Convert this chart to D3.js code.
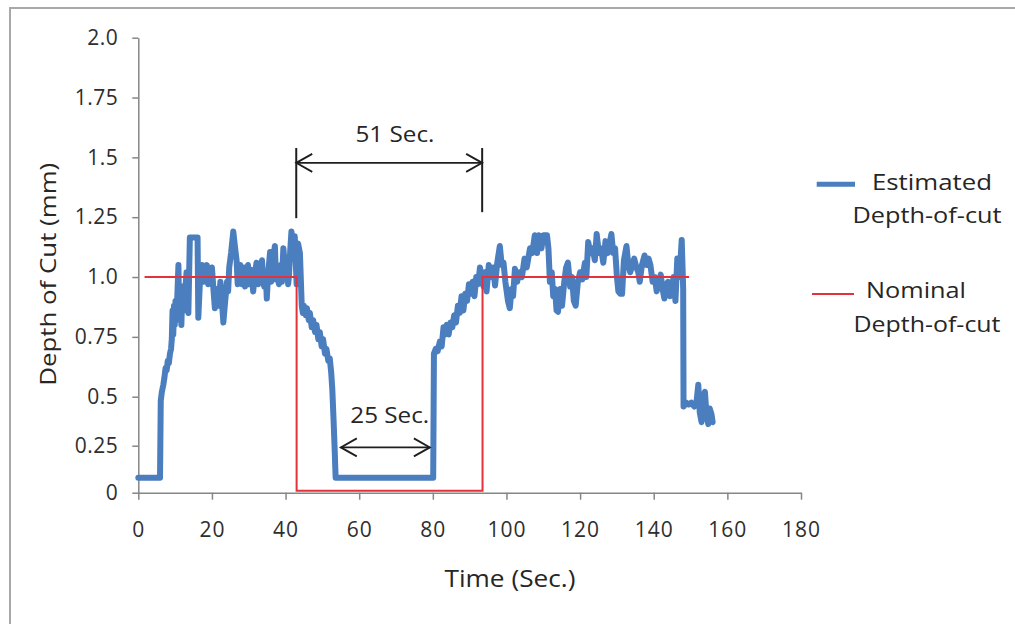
<!DOCTYPE html>
<html>
<head>
<meta charset="utf-8">
<script src="https://cdn.jsdelivr.net/npm/d3@7"></script>
<style>
  html, body { margin: 0; padding: 0; background: #fff; }
  svg { display: block; font-family: "Open Sans", "Noto Sans", sans-serif; }
</style>
</head>
<body>
<svg id="chart" width="1015" height="624"></svg>
<script>
// ---- data -------------------------------------------------------------
const xTicks = [0, 20, 40, 60, 80, 100, 120, 140, 160, 180];
const yTicks = [0, 0.25, 0.5, 0.75, 1.0, 1.25, 1.5, 1.75, 2.0];
const yTickLabels = ["0", "0.25", "0.5", "0.75", "1.0", "1.25", "1.5", "1.75", "2.0"];

// estimated depth of cut [time s, depth mm]
const estimated = [
  [0, 0.08], [5.9, 0.08], [6.1, 0.48], [6.4, 0.52], [6.8, 0.55], [7.1, 0.58], [7.4, 0.62],
  [7.7, 0.61], [8.0, 0.65], [8.3, 0.64], [8.6, 0.68], [8.9, 0.70], [9.1, 0.74], [9.3, 0.86],
  [9.5, 0.76], [9.7, 0.88], [9.9, 0.80], [10.1, 0.90], [10.3, 0.82], [10.6, 0.92],
  [10.9, 1.05], [11.1, 0.84], [11.4, 0.95], [11.7, 0.80], [12.0, 0.96], [12.3, 0.86],
  [12.7, 0.93], [13.1, 1.02], [13.4, 0.88], [13.6, 0.85], [14.0, 1.165], [15.0, 1.165],
  [16.1, 1.165], [16.3, 0.83], [16.8, 1.0], [17.3, 1.05], [17.7, 0.98], [18.0, 1.02],
  [18.6, 1.05], [19.0, 0.97], [19.3, 1.0], [20.0, 1.04], [20.4, 0.95], [20.8, 0.87],
  [21.3, 0.95], [21.8, 0.88], [22.3, 0.98], [22.7, 0.90], [23.1, 0.81], [23.6, 0.90],
  [24.1, 0.98], [24.4, 0.94], [24.7, 1.04], [25.2, 1.10], [25.8, 1.19], [26.3, 1.12],
  [26.7, 1.07], [27.0, 0.97], [27.2, 1.0], [27.7, 1.05], [28.2, 0.97], [28.7, 1.04],
  [29.0, 0.96], [29.3, 0.99], [29.8, 1.05], [30.1, 0.97], [30.4, 0.98], [30.8, 1.03],
  [31.2, 0.94], [31.6, 1.0], [32.1, 1.06], [32.6, 0.97], [33.1, 1.01], [33.6, 1.07],
  [33.9, 0.99], [34.2, 0.96], [34.6, 1.02], [34.9, 0.91], [35.3, 1.02], [35.8, 1.105],
  [36.1, 0.98], [36.3, 1.0], [36.7, 1.08], [37.1, 1.13], [37.4, 0.99], [37.6, 1.02],
  [38.2, 0.97], [38.7, 1.05], [39.0, 0.98], [39.4, 1.12], [39.9, 1.03], [40.4, 1.06],
  [40.7, 0.97], [40.9, 1.0], [41.3, 1.12], [41.6, 1.19], [42.1, 1.10], [42.5, 1.17],
  [43.0, 0.97], [43.4, 1.14], [43.9, 1.10], [44.4, 0.88], [44.7, 0.85], [45.0, 0.88],
  [45.5, 0.84], [45.8, 0.87], [46.3, 0.82], [46.6, 0.85], [47.1, 0.79], [47.5, 0.82],
  [48.0, 0.77], [48.4, 0.80], [48.9, 0.74], [49.3, 0.77], [49.8, 0.71], [50.2, 0.74],
  [50.7, 0.68], [51.1, 0.70], [51.6, 0.65], [52.0, 0.66], [52.4, 0.60], [52.7, 0.53],
  [53.0, 0.40], [53.3, 0.25], [53.6, 0.08], [80.1, 0.08], [80.3, 0.68], [80.8, 0.70],
  [81.3, 0.69], [81.9, 0.73], [82.4, 0.71], [82.9, 0.79], [83.3, 0.76], [83.8, 0.80],
  [84.3, 0.76], [84.8, 0.81], [85.3, 0.79], [85.8, 0.84], [86.3, 0.81], [86.8, 0.88],
  [87.3, 0.85], [87.8, 0.92], [88.3, 0.86], [88.8, 0.93], [89.3, 0.90], [89.8, 0.97],
  [90.3, 0.93], [90.8, 0.98], [91.3, 0.92], [91.8, 1.0], [92.3, 0.97], [92.8, 1.04],
  [93.2, 1.0], [93.8, 0.96], [94.2, 1.02], [94.6, 0.94], [95.2, 1.05], [95.8, 1.0],
  [96.4, 1.04], [96.9, 0.965], [97.5, 1.06], [98.2, 1.13], [98.7, 1.05], [99.2, 1.06],
  [99.7, 0.98], [100.4, 0.90], [100.9, 0.87], [101.4, 0.95], [101.8, 0.92], [102.3, 1.035],
  [102.9, 0.98], [103.5, 1.02], [104.2, 1.0], [104.9, 1.077], [105.5, 1.04], [106.4, 1.12],
  [107.0, 1.10], [107.7, 1.175], [108.3, 1.10], [108.8, 1.175], [109.5, 1.12], [110.0, 1.175],
  [111.0, 1.175], [111.4, 1.12], [111.8, 0.98], [112.3, 1.02], [112.7, 0.92], [113.2, 0.95],
  [113.6, 0.86], [114.0, 0.855], [114.6, 0.95], [115.1, 0.88], [115.7, 0.98], [116.2, 1.04],
  [116.7, 1.06], [117.3, 0.96], [117.8, 1.0], [118.3, 0.90], [118.8, 0.88], [119.4, 0.98],
  [120.0, 1.02], [120.6, 0.99], [121.3, 1.06], [121.7, 1.0], [122.2, 1.146], [122.8, 1.10],
  [123.4, 1.12], [124.0, 1.07], [124.5, 1.18], [125.1, 1.10], [125.7, 1.12], [126.3, 1.06],
  [126.9, 1.15], [127.5, 1.10], [128.0, 1.14], [128.5, 1.18], [129.0, 1.10], [129.5, 1.12],
  [130.0, 1.0], [130.4, 0.94], [130.9, 0.93], [131.4, 0.93], [131.9, 1.07], [132.6, 1.13],
  [133.1, 1.05], [133.6, 1.02], [134.2, 1.05], [134.7, 1.077], [135.3, 1.04], [135.8, 1.02],
  [136.2, 0.98], [136.8, 1.05], [137.5, 1.09], [138.1, 1.05], [138.6, 1.077], [139.1, 1.05],
  [139.7, 0.98], [140.3, 1.0], [140.8, 0.94], [141.4, 0.98], [141.9, 1.01], [142.4, 0.95],
  [142.9, 0.91], [143.4, 0.97], [143.9, 0.98], [144.4, 0.92], [144.9, 0.96], [145.4, 1.0],
  [145.9, 0.90], [146.4, 1.077], [147.0, 1.0], [147.6, 1.155], [148.0, 0.95], [148.1, 0.45],
  [148.8, 0.47], [149.5, 0.46], [150.2, 0.47], [151.0, 0.45], [151.6, 0.47], [152.1, 0.55],
  [152.5, 0.42], [153.0, 0.37], [153.4, 0.50], [153.9, 0.52], [154.3, 0.42], [154.8, 0.36],
  [155.2, 0.44], [155.7, 0.41], [156.0, 0.37]
];

// nominal (commanded) depth of cut [time s, depth mm]
const nominal = [
  [1.7, 1.0], [43.0, 1.0], [43.0, 0.01], [93.5, 0.01], [93.5, 1.0], [149.6, 1.0]
];

// duration annotations, in data units
const spans = [
  { start: 42.9, end: 93.4, level: 1.477, label: "51 Sec.", labelT: 69.7, labelV: 1.565,
    guides: [[42.9, 1.539, 1.246], [93.4, 1.539, 1.271]] },
  { start: 55.0, end: 79.2, level: 0.241, label: "25 Sec.", labelT: 68.3, labelV: 0.364,
    guides: [] }
];

const seriesNames = ["Estimated", "Nominal"];
const seriesSub = "Depth-of-cut";

// ---- drawing ----------------------------------------------------------
const svg = d3.select("#chart");
const blue = "#4a7ebf", red = "#e3323c", axisGrey = "#868686", ink = "#262626";

// outer frame (top and left edges)
svg.append("path")
  .attr("d", "M10,624V8H1015")
  .attr("fill", "none").attr("stroke", "#a8a8a8").attr("stroke-width", 2);

const x = d3.scaleLinear().domain([0, 180]).range([138.3, 801]);
const y = d3.scaleLinear().domain([0, 0.25, 0.5, 2.0]).range([492.7, 445.7, 396.7, 37.7]);

function styleAxis(g) {
  g.select(".domain").attr("stroke", axisGrey).attr("stroke-width", 1.5);
  g.selectAll(".tick line").attr("stroke", axisGrey).attr("stroke-width", 1.5);
  g.selectAll(".tick text").attr("fill", "#2e2e2e")
    .style("font-size", "21px").style("font-family", "'Open Sans', sans-serif");
}

svg.append("g")
  .attr("transform", `translate(0,${y(0)})`)
  .call(d3.axisBottom(x).tickValues(xTicks).tickSize(7).tickSizeOuter(0).tickPadding(22))
  .call(styleAxis)
  .selectAll(".tick text").attr("letter-spacing", "1px");

svg.append("g")
  .attr("transform", `translate(${x(0)},0)`)
  .call(d3.axisLeft(y).tickValues(yTicks).tickFormat((d, i) => yTickLabels[i])
        .tickSize(6).tickSizeOuter(0).tickPadding(14))
  .call(styleAxis)
  .selectAll(".tick text").attr("letter-spacing", "0.5px");

// axis titles
svg.append("text")
  .attr("x", 510).attr("y", 586.7)
  .attr("text-anchor", "middle").attr("fill", ink)
  .style("font-size", "23px")
  .attr("textLength", 131).attr("lengthAdjust", "spacingAndGlyphs")
  .text("Time (Sec.)");

svg.append("text")
  .attr("transform", "translate(55.5,274.3) rotate(-90)")
  .attr("text-anchor", "middle").attr("fill", ink)
  .style("font-size", "21px")
  .attr("textLength", 223).attr("lengthAdjust", "spacingAndGlyphs")
  .text("Depth of Cut (mm)");

// series
const line = d3.line().x(d => x(d[0])).y(d => y(d[1]));

svg.append("path")
  .datum(estimated)
  .attr("d", line)
  .attr("fill", "none").attr("stroke", blue)
  .attr("stroke-width", 6).attr("stroke-linejoin", "round").attr("stroke-linecap", "round");

svg.append("path")
  .datum(nominal)
  .attr("d", line)
  .attr("fill", "none").attr("stroke", red).attr("stroke-width", 2);

// duration annotations
const annotInk = "#1e1e1e";
function chevron(g, px, py, dir) {
  const len = 16, half = 9;
  g.append("path")
    .attr("d", `M${px + dir * len},${py - half}L${px},${py}L${px + dir * len},${py + half}`)
    .attr("fill", "none").attr("stroke", annotInk).attr("stroke-width", 1.8);
}
spans.forEach(s => {
  const g = svg.append("g");
  s.guides.forEach(([t, v0, v1]) => {
    g.append("line")
      .attr("x1", x(t)).attr("x2", x(t)).attr("y1", y(v0)).attr("y2", y(v1))
      .attr("stroke", annotInk).attr("stroke-width", 2);
  });
  const x0 = x(s.start), x1 = x(s.end), ya = y(s.level);
  g.append("line")
    .attr("x1", x0).attr("x2", x1).attr("y1", ya).attr("y2", ya)
    .attr("stroke", annotInk).attr("stroke-width", 1.8);
  chevron(g, x0, ya, 1);
  chevron(g, x1, ya, -1);
  g.append("text")
    .attr("x", x(s.labelT)).attr("y", y(s.labelV))
    .attr("text-anchor", "middle").attr("fill", ink)
    .style("font-size", "21px")
    .attr("textLength", 79).attr("lengthAdjust", "spacingAndGlyphs")
    .text(s.label);
});

// legend
const legend = svg.append("g");
const legendRows = [
  { name: seriesNames[0], color: blue, width: 5, lx0: 816.7, lx1: 855, ly: 184.3,
    cx: 932, by1: 190, w1: 120, cx2: 927, by2: 223.3, w2: 149 },
  { name: seriesNames[1], color: red, width: 2, lx0: 812, lx1: 854, ly: 294,
    cx: 916, by1: 298, w1: 100, cx2: 927, by2: 331.7, w2: 147 }
];
legendRows.forEach(r => {
  legend.append("line")
    .attr("x1", r.lx0).attr("x2", r.lx1).attr("y1", r.ly).attr("y2", r.ly)
    .attr("stroke", r.color).attr("stroke-width", r.width);
  legend.append("text")
    .attr("x", r.cx).attr("y", r.by1).attr("text-anchor", "middle").attr("fill", ink)
    .style("font-size", "21px")
    .attr("textLength", r.w1).attr("lengthAdjust", "spacingAndGlyphs")
    .text(r.name);
  legend.append("text")
    .attr("x", r.cx2).attr("y", r.by2).attr("text-anchor", "middle").attr("fill", ink)
    .style("font-size", "21px")
    .attr("textLength", r.w2).attr("lengthAdjust", "spacingAndGlyphs")
    .text(seriesSub);
});
</script>
</body>
</html>
